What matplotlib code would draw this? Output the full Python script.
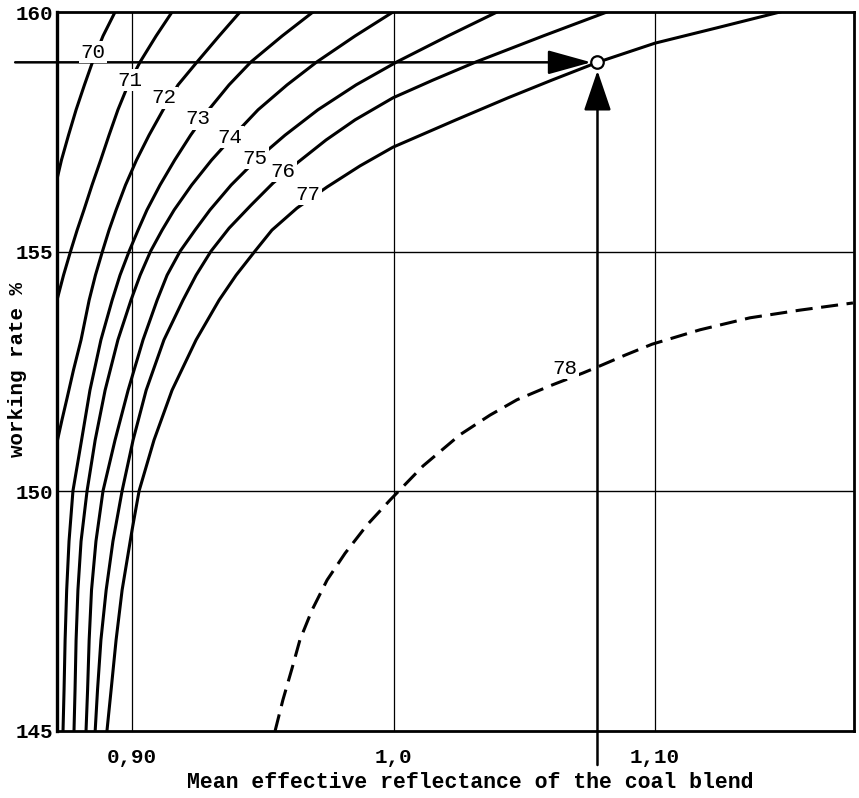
import matplotlib
matplotlib.use("Agg")
import matplotlib.pyplot as plt

plt.rcParams["font.family"] = ["Liberation Mono", "DejaVu Sans Mono"]

# Iso-lines of the nomogram: mean reflectance (x) vs working rate % (y)
X_70 = [0.8935, 0.8889, 0.8849, 0.8818, 0.8786, 0.8757, 0.8730, 0.8715]
Y_70 = [160.0, 159.50, 158.96, 158.48, 157.96, 157.43, 156.91, 156.56]

X_71 = [0.9153, 0.9092, 0.9031, 0.8985, 0.8946, 0.8912, 0.8880, 0.8847, 0.8816,
        0.8790, 0.8765, 0.8738, 0.8715]
Y_71 = [160.0, 159.50, 158.96, 158.48, 157.96, 157.43, 156.91, 156.39, 155.87,
        155.45, 155.01, 154.51, 154.03]

X_72 = [0.9413, 0.9333, 0.9249, 0.9176, 0.9119, 0.9065, 0.9017, 0.8975, 0.8939,
        0.8912, 0.8887, 0.8860, 0.8836, 0.8805, 0.8776, 0.8750, 0.8732, 0.8715]
Y_72 = [160.0, 159.50, 158.96, 158.48, 157.96, 157.43, 156.91, 156.39, 155.87,
        155.45, 155.01, 154.51, 153.99, 153.16, 152.53, 151.91, 151.49, 151.07]

X_73 = [0.9692, 0.9574, 0.9455, 0.9371, 0.9293, 0.9224, 0.9163, 0.9107, 0.9057,
        0.9023, 0.8989, 0.8954, 0.8924, 0.8881, 0.8839, 0.8807, 0.8774, 0.8759,
        0.8750, 0.8744, 0.8740, 0.8736]
Y_73 = [160.0, 159.50, 158.96, 158.48, 157.96, 157.43, 156.91, 156.39, 155.87,
        155.45, 155.01, 154.51, 153.99, 153.16, 152.11, 151.07, 150.01, 148.96,
        147.94, 146.90, 145.86, 145.0]

X_74 = [0.9998, 0.9853, 0.9707, 0.9593, 0.9482, 0.9390, 0.9304, 0.9228, 0.9161,
        0.9115, 0.9071, 0.9031, 0.8996, 0.8946, 0.8897, 0.8859, 0.8828, 0.8805,
        0.8793, 0.8786, 0.8782, 0.8778]
Y_74 = [160.0, 159.50, 158.96, 158.48, 157.96, 157.43, 156.91, 156.39, 155.87,
        155.45, 155.01, 154.51, 153.99, 153.16, 152.11, 151.07, 150.01, 148.96,
        147.94, 146.90, 145.86, 145.0]

X_75 = [1.0396, 1.0208, 1.0013, 0.9857, 0.9711, 0.9585, 0.9474, 0.9379, 0.9298,
        0.9241, 0.9184, 0.9134, 0.9096, 0.9042, 0.8985, 0.8935, 0.8889, 0.8862,
        0.8845, 0.8836, 0.8830, 0.8824]
Y_75 = [160.0, 159.50, 158.96, 158.48, 157.96, 157.43, 156.91, 156.39, 155.87,
        155.45, 155.01, 154.51, 153.99, 153.16, 152.11, 151.07, 150.01, 148.96,
        147.94, 146.90, 145.86, 145.0]

X_76 = [1.0816, 1.0572, 1.0316, 1.0151, 0.9998, 0.9853, 0.9742, 0.9631, 0.9539,
        0.9455, 0.9371, 0.9302, 0.9245, 0.9195, 0.9122, 0.9054, 0.9004, 0.8962,
        0.8927, 0.8901, 0.8881, 0.8868, 0.8859]
Y_76 = [160.0, 159.50, 158.96, 158.58, 158.21, 157.75, 157.33, 156.85, 156.43,
        155.97, 155.49, 155.01, 154.51, 153.99, 153.16, 152.11, 151.07, 150.01,
        148.96, 147.94, 146.90, 145.86, 145.0]

X_77 = [1.1478, 1.1237, 1.1000, 1.0780, 1.0606, 1.0438, 1.0239, 0.9998, 0.9872,
        0.9746, 0.9631, 0.9535, 0.9470, 0.9398, 0.9333, 0.9245, 0.9153, 0.9084,
        0.9027, 0.9000, 0.8962, 0.8939, 0.8920, 0.8904]
Y_77 = [160.0, 159.67, 159.35, 158.95, 158.58, 158.21, 157.75, 157.18, 156.79,
        156.35, 155.91, 155.45, 155.01, 154.51, 153.99, 153.16, 152.11, 151.07,
        150.01, 149.19, 147.94, 146.90, 145.86, 145.0]

# level 78 is only estimated -> dashed
X_78 = [0.9547, 0.9577, 0.9612, 0.9642, 0.9688, 0.9746, 0.9815, 0.9899, 0.9987,
        1.0113, 1.0254, 1.0369, 1.0472, 1.0598, 1.0725, 1.0778, 1.0885, 1.0989,
        1.1172, 1.1363, 1.1554, 1.1757]
Y_78 = [145.0, 145.65, 146.31, 146.90, 147.52, 148.15, 148.71, 149.30, 149.82,
        150.53, 151.18, 151.59, 151.91, 152.20, 152.47, 152.59, 152.84, 153.07,
        153.37, 153.62, 153.78, 153.93]

# label anchor for every iso-line
LABEL_X = [0.8851, 0.8992, 0.9122, 0.9252, 0.9375, 0.9470, 0.9577, 0.9673, 1.0656]
LABEL_Y = [159.16, 158.58, 158.21, 157.77, 157.39, 156.95, 156.68, 156.20, 152.57]
LABEL_TXT = ["70", "71", "72", "73", "74", "75", "76", "77", "78"]

# worked example: reflectance 1.078, working rate 158.95 %
EX_X = 1.078
EX_Y = 158.95
EX_X_START = 0.8553
EX_Y_START = 144.29

X_TICKS = [0.90, 1.0, 1.10]
X_TICKLABELS = ["0,90", "1,0", "1,10"]
Y_TICKS = [145, 150, 155, 160]
Y_TICKLABELS = ["145", "150", "155", "160"]
XLIM = (0.8713, 1.1761)
YLIM = (145, 160)

W, H = 859, 798
fig = plt.figure(figsize=(W / 100, H / 100), dpi=100)
ax = fig.add_axes([57 / W, 1 - 731 / H, (854 - 57) / W, (731 - 12) / H])
ax.set_xlim(*XLIM)
ax.set_ylim(*YLIM)

# grid
for xv in X_TICKS:
    ax.axvline(xv, color="black", lw=0.9, zorder=1)
for yv in Y_TICKS[1:-1]:
    ax.axhline(yv, color="black", lw=1.0, zorder=1)

curves = [(X_70, Y_70), (X_71, Y_71), (X_72, Y_72), (X_73, Y_73),
          (X_74, Y_74), (X_75, Y_75), (X_76, Y_76), (X_77, Y_77)]
for xs, ys in curves:
    ax.plot(xs, ys, color="black", lw=2.2, solid_joinstyle="round", zorder=2)
ax.plot(X_78, Y_78, color="black", lw=2.2, linestyle=(0, (5.6, 2.8)), zorder=2)

for lx, ly, txt in zip(LABEL_X, LABEL_Y, LABEL_TXT):
    ax.text(lx, ly, txt, fontsize=15, ha="center", va="center", zorder=5,
            bbox=dict(boxstyle="square,pad=0.08", fc="white", ec="none"))

# reading arrows
ax.annotate("", xy=(EX_X, EX_Y), xytext=(EX_X_START, EX_Y),
            arrowprops=dict(arrowstyle="-|>,head_length=2.7,head_width=0.75",
                            mutation_scale=10, lw=1.8, color="black",
                            shrinkA=0, shrinkB=4.5),
            annotation_clip=False, zorder=4)
ax.annotate("", xy=(EX_X, EX_Y), xytext=(EX_X, EX_Y_START),
            arrowprops=dict(arrowstyle="-|>,head_length=2.5,head_width=0.85",
                            mutation_scale=10, lw=1.8, color="black",
                            shrinkA=0, shrinkB=6),
            annotation_clip=False, zorder=4)
ax.plot([EX_X], [EX_Y], "o", ms=9, mfc="white", mec="black", mew=1.6, zorder=6)

ax.set_xticks(X_TICKS)
ax.set_xticklabels(X_TICKLABELS, fontsize=15, fontweight="bold")
ax.set_yticks(Y_TICKS)
ax.set_yticklabels(Y_TICKLABELS, fontsize=15, fontweight="bold")
ax.tick_params(axis="both", length=0)
ax.tick_params(axis="x", pad=12)
ax.tick_params(axis="y", pad=3)
for side, sp in ax.spines.items():
    sp.set_linewidth(2.0 if side != "left" else 2.4)
    sp.set_zorder(3)

fig.text(470 / W, 1 - 783 / H, "Mean effective reflectance of the coal blend",
         fontsize=15.5, fontweight="bold", ha="center", va="center")
fig.text(18 / W, 1 - 370 / H, "working rate %", fontsize=15, fontweight="bold",
         rotation=90, ha="center", va="center")

fig.savefig("out.png", dpi=100, facecolor="white")
